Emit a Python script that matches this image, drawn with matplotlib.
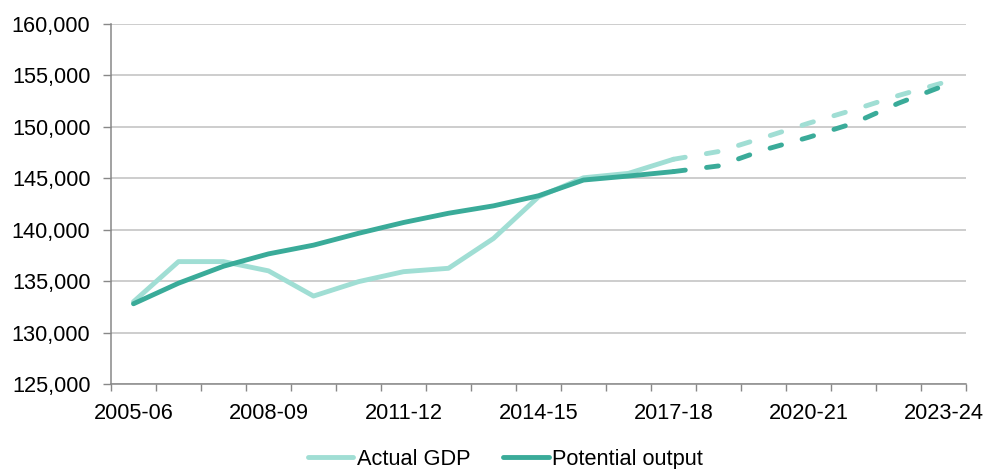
import matplotlib.pyplot as plt
import matplotlib.ticker as ticker

years = ['2005-06', '2006-07', '2007-08', '2008-09', '2009-10', '2010-11',
         '2011-12', '2012-13', '2013-14', '2014-15', '2015-16', '2016-17',
         '2017-18', '2018-19', '2019-20', '2020-21', '2021-22', '2022-23',
         '2023-24']
actual_gdp = [133000, 136900, 136900, 136000, 133550, 134950, 135920, 136250,
              139150, 143200, 145050, 145480, 146850, 147600, 148950, 150350,
              151650, 153050, 154300]
potential = [132800, 134800, 136450, 137650, 138500, 139650, 140700, 141600,
             142320, 143300, 144830, 145220, 145650, 146200, 147750, 148980,
             150350, 152300, 153980]
last_outturn = 12  # 2017-18, forecast after this

light = '#a0ded4'
dark = '#3aab99'
fs = 15.7

plt.rcParams['font.family'] = ['Liberation Sans', 'DejaVu Sans']

fig = plt.figure(figsize=(9.87, 4.69), dpi=100)
ax = fig.add_axes([111/987, 1 - 384/469, 855/987, 360/469])

x = list(range(len(years)))
n = last_outturn + 1
lw = 3.5
dash = (2.45, 4.4)

ax.plot(x[:n], actual_gdp[:n], color=light, lw=lw, solid_capstyle='round',
        label='Actual GDP', zorder=3)
ax.plot(x[last_outturn:], actual_gdp[last_outturn:], color=light, lw=lw,
        dashes=dash, dash_capstyle='round', zorder=3)
ax.plot(x[:n], potential[:n], color=dark, lw=lw, solid_capstyle='round',
        label='Potential output', zorder=4)
ax.plot(x[last_outturn:], potential[last_outturn:], color=dark, lw=lw,
        dashes=dash, dash_capstyle='round', zorder=4)

ax.set_xlim(-0.5, len(years) - 0.5)
ax.set_ylim(125000, 160000)
ax.yaxis.set_major_locator(ticker.MultipleLocator(5000))
ax.yaxis.set_major_formatter(ticker.FuncFormatter(lambda v, p: f'{v:,.0f}'))
ax.grid(axis='y', color='#c0c0c0', lw=1.1)
ax.set_axisbelow(True)

# ticks between categories, labels every third year
ax.set_xticks([i - 0.5 for i in range(len(years) + 1)])
ax.set_xticklabels([])
ax.set_xticks(x[::3], minor=True)
ax.set_xticklabels(years[::3], minor=True)
ax.tick_params(axis='x', which='major', length=5, color='#888888', width=1)
ax.tick_params(axis='x', which='minor', length=0, pad=14, labelsize=fs)
ax.tick_params(axis='y', length=5.8, color='#888888', width=1, labelsize=fs, pad=9)

for s in ['top', 'right']:
    ax.spines[s].set_visible(False)
for s in ['left', 'bottom']:
    ax.spines[s].set_color('#888888')
    ax.spines[s].set_linewidth(1.1)

ax.legend(loc='center', bbox_to_anchor=(0.461, -0.21), ncol=2,
          frameon=False, fontsize=fs, handlelength=2.1, handletextpad=0.15,
          columnspacing=1.5, borderaxespad=0, borderpad=0)

fig.savefig('out.png', dpi=100)
